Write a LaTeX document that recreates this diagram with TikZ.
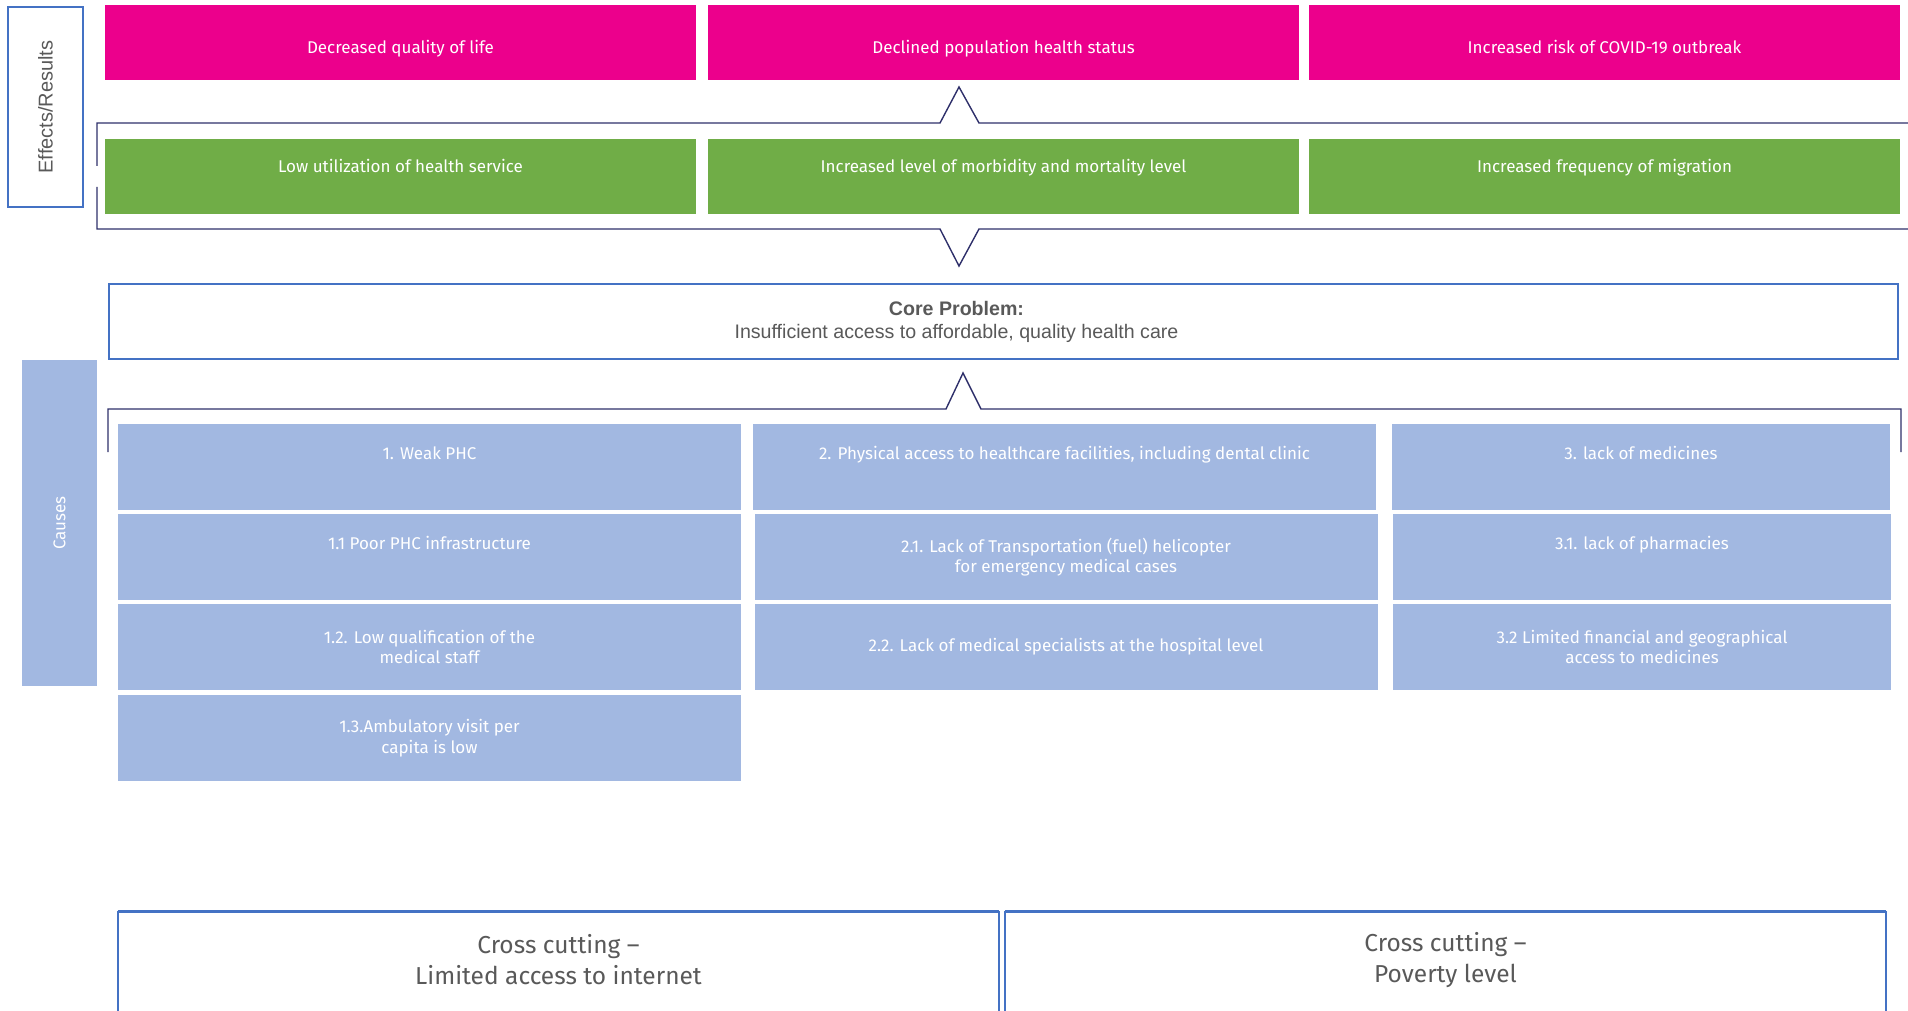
\documentclass[tikz,border=0pt]{standalone}
\usepackage{fontspec}
\setmainfont{Fira Sans}
\newfontfamily\arialfont{Liberation Sans}
\usepackage{tikz}
\usetikzlibrary{positioning}
\definecolor{effectpink}{HTML}{EC008C}
\definecolor{effectgreen}{HTML}{70AD47}
\definecolor{causeblue}{HTML}{A2B8E1}
\definecolor{frameblue}{HTML}{4472C4}
\definecolor{bracketnavy}{HTML}{2E2F6A}
\definecolor{textgray}{HTML}{595959}

\begin{document}
\begin{tikzpicture}[x=1pt, y=-1pt,
  effectbox/.style={fill=#1, text=white, minimum width=591pt, minimum height=75pt, inner sep=0pt, align=center, font=\fontsize{17}{20.5}\selectfont},
  causebox/.style={fill=causeblue, text=white, minimum width=#1, minimum height=86pt, inner sep=0pt, align=center, font=\fontsize{17}{20.5}\selectfont},
  crossbox/.style={text=textgray, minimum width=881pt, minimum height=96pt, inner sep=0pt, align=center, font=\fontsize{24.5}{31}\selectfont},
  crossframe/.style={draw=frameblue, line width=1.5pt},
  bracket/.style={draw=bracketnavy, line width=1.4pt}]
\clip (0,0) rectangle (1908,1011);

% side labels
\node [draw=frameblue, line width=2.5pt, rotate=90, minimum width=200pt, minimum height=75pt, inner sep=0pt, text=textgray, font=\arialfont\fontsize{20}{24}\selectfont] (effects) at (45.5,107) {Effects/Results};
\node [fill=causeblue, rotate=90, minimum width=326pt, minimum height=75pt, inner sep=0pt, text=white, font=\fontsize{17}{20.5}\selectfont] (causes) at (59.5,523) {Causes};

% effects
\node [effectbox=effectpink, text height=26pt, text depth=4pt] (e1) at (400.5,42.5) {Decreased quality of life};
\node [effectbox=effectpink, text height=26pt, text depth=4pt] (e2) at (1003.5,42.5) {Declined population health status};
\node [effectbox=effectpink, text height=26pt, text depth=4pt] (e3) at (1604.5,42.5) {Increased risk of COVID-19 outbreak};

\node [effectbox=effectgreen] (r1) at (400.5,176.5) {Low utilization of health service\\~};
\node [effectbox=effectgreen] (r2) at (1003.5,176.5) {Increased level of morbidity and mortality level\\~};
\node [effectbox=effectgreen] (r3) at (1604.5,176.5) {Increased frequency of migration\\~};

\draw [bracket] (97,166) |- (940,123) -- (959,87) -- (979,123) -- (1908,123);
\draw [bracket] (97,187) |- (940,229) -- (959,266) -- (979,229) -- (1908,229);

% core problem
\node [draw=frameblue, line width=2.5pt, minimum width=1789pt, minimum height=75pt, inner sep=0pt] (core) at (1003.5,321.5) {};
\node [align=center, text=textgray, font=\arialfont\fontsize{19.6}{23}\selectfont, xshift=-47pt] (coretext) at (core.center) {\textbf{Core Problem:}\\Insufficient access to affordable, quality health care};

\draw [bracket] (108,452) |- (946,409) -- (963,373) -- (981,409) -- (1901,409) -- (1901,452);

% causes
\node [causebox=623pt] (c1) at (429.5,467) {1. Weak PHC\\[7pt]~};
\node [causebox=623pt] (c11) at (429.5,557) {1.1 Poor PHC infrastructure\\[7pt]~};
\node [causebox=623pt] (c12) at (429.5,647) {1.2. Low qualification of the\\medical staff};
\node [causebox=623pt] (c13) at (429.5,738) {1.3.Ambulatory visit per\\capita is low};

\node [causebox=623pt] (c2) at (1064.5,467) {2. Physical access to healthcare facilities, including dental clinic\\[7pt]~};
\node [causebox=623pt] (c21) at (1066,557) {2.1. Lack of Transportation (fuel) helicopter\\for emergency medical cases};
\node [causebox=623pt] (c22) at (1066,647) {2.2. Lack of medical specialists at the hospital level};

\node [causebox=498pt] (c3) at (1641,467) {3. lack of medicines\\[7pt]~};
\node [causebox=498pt] (c31) at (1642,557) {3.1. lack of pharmacies\\[7pt]~};
\node [causebox=498pt] (c32) at (1642,647) {3.2 Limited financial and geographical\\access to medicines};

% cross cutting
\node [crossbox] (x1) at (558.5,960) {Cross cutting –\\Limited access to internet};
\node [crossbox] (x2) at (1445.5,960) {Cross cutting –\\Poverty level};
\draw [crossframe] ([yshift=-20pt]x1.south west) |- (x1.north east) -- ([yshift=-20pt]x1.south east);
\draw [crossframe] ([yshift=-20pt]x2.south west) |- (x2.north east) -- ([yshift=-20pt]x2.south east);
\draw [frameblue, line width=3pt] (x1.north west) -- (x1.north east);
\draw [frameblue, line width=3pt] (x2.north west) -- (x2.north east);
\end{tikzpicture}
\end{document}
